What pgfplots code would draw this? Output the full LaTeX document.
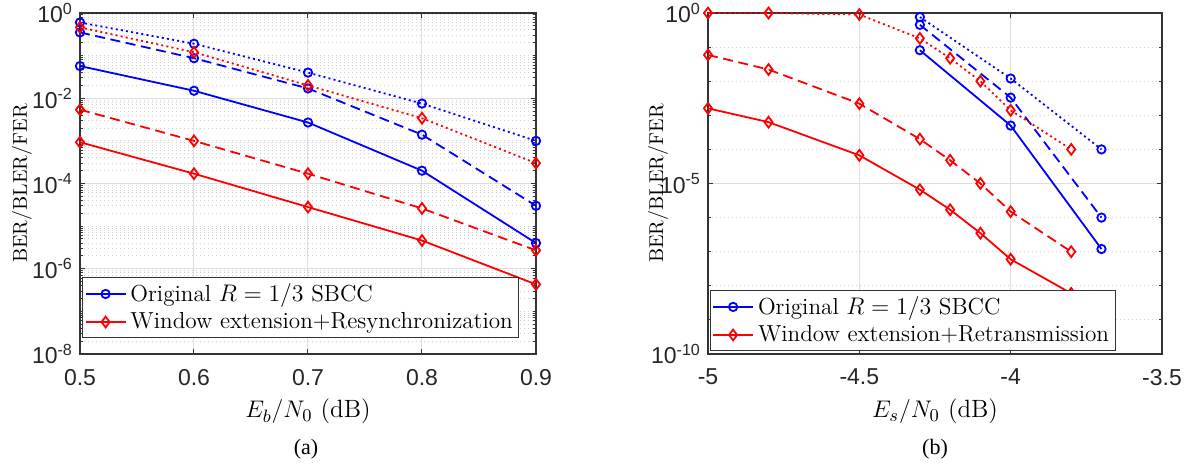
\documentclass[border=0pt]{standalone}
\usepackage{fontspec}
\usepackage{pgfplots}
\pgfplotsset{compat=1.18}
\newfontfamily\tickfont{Liberation Sans}
\newfontfamily\capfont{Liberation Serif}
\pgfplotsset{
 mystyle/.style={
   scale only axis, height=170.5pt,
   clip mode=individual,
   axis line style={black!80, line width=0.55pt},
   tick style={black!80, line width=0.5pt},
   major tick length=2.5pt, minor tick length=1.5pt,
   tick align=inside, tick pos=both,
   ticklabel style={font=\tickfont\fontsize{11.5}{11.5}\selectfont, text=black!85},
   xticklabel style={yshift=-4pt},
   label style={font=\fontsize{12.5}{12.5}\selectfont},
   xmajorgrids, ymajorgrids, yminorgrids,
   major grid style={black!13, line width=0.5pt},
   minor grid style={black!18, line width=0.5pt, dash pattern=on 0.6pt off 1.4pt},
   legend style={font=\fontsize{11.6}{13.5}\selectfont, draw=black!80, line width=0.4pt, inner sep=1pt, anchor=south west},
   legend cell align=left,
   legend image code/.code={\draw[mark repeat=2,mark phase=2] plot coordinates {(0pt,0pt)(10pt,0pt)(20pt,0pt)};},
   ylabel={BER/BLER/FER},
   every axis y label/.style={at={(rel axis cs:0,0.5)}, rotate=90, anchor=center},
 },
}
\tikzset{
 bc/.style={blue, line width=0.9pt, mark=o, mark size=2.1pt, mark options={solid}},
 rd/.style={red, line width=0.9pt, mark=diamond, mark size=2.7pt, mark options={solid}},
 mydsh/.style={dash pattern=on 5pt off 2.8pt},
 mydot/.style={dash pattern=on 1pt off 1.6pt},
}
\begin{document}
\begin{tikzpicture}
\useasboundingbox (-40pt,-55.5pt) rectangle (554pt,177pt);
\begin{axis}[ymode=log, mystyle, width=228pt, at={(0,0)}, anchor=south west,
  xmin=0.5, xmax=0.9, ymin=1e-8, ymax=1,
  xtick={0.5,0.6,0.7,0.8,0.9}, xticklabels={0.5,0.6,0.7,0.8,0.9},
  ytick={1e-8,1e-6,1e-4,1e-2,1},
  yticklabels={10\textsuperscript{-8},10\textsuperscript{-6},10\textsuperscript{-4},10\textsuperscript{-2},10\textsuperscript{0}},
  minor ytick={2e-8,3e-8,4e-8,5e-8,6e-8,7e-8,8e-8,9e-8,1e-7,2e-7,3e-7,4e-7,5e-7,6e-7,7e-7,8e-7,9e-7,
    2e-6,3e-6,4e-6,5e-6,6e-6,7e-6,8e-6,9e-6,1e-5,2e-5,3e-5,4e-5,5e-5,6e-5,7e-5,8e-5,9e-5,
    2e-4,3e-4,4e-4,5e-4,6e-4,7e-4,8e-4,9e-4,1e-3,2e-3,3e-3,4e-3,5e-3,6e-3,7e-3,8e-3,9e-3,
    2e-2,3e-2,4e-2,5e-2,6e-2,7e-2,8e-2,9e-2,1e-1,2e-1,3e-1,4e-1,5e-1,6e-1,7e-1,8e-1,9e-1},
  xlabel={$E_b/N_0$ (dB)},
  ylabel style={yshift=29pt},
  legend style={at={(0.005,0.047)}},
]
\addplot[bc] coordinates {(0.5,0.057)(0.6,0.015)(0.7,2.7e-3)(0.8,2e-4)(0.9,4e-6)};
\addlegendentry{Original $R=1/3$ SBCC}
\addplot[rd] coordinates {(0.5,9.3e-4)(0.6,1.7e-4)(0.7,2.8e-5)(0.8,4.6e-6)(0.9,4.3e-7)};
\addlegendentry{Window extension+Resynchronization}
\addplot[bc,mydsh,forget plot] coordinates {(0.5,0.35)(0.6,0.087)(0.7,0.017)(0.8,1.4e-3)(0.9,3e-5)};
\addplot[bc,mydot,forget plot] coordinates {(0.5,0.6)(0.6,0.19)(0.7,0.04)(0.8,7.5e-3)(0.9,1e-3)};
\addplot[rd,mydsh,forget plot] coordinates {(0.5,5.4e-3)(0.6,1e-3)(0.7,1.7e-4)(0.8,2.6e-5)(0.9,2.7e-6)};
\addplot[rd,mydot,forget plot] coordinates {(0.5,0.46)(0.6,0.12)(0.7,0.02)(0.8,3.4e-3)(0.9,3e-4)};
\end{axis}
\begin{axis}[ymode=log, mystyle, width=227pt, at={(314pt,0)}, anchor=south west,
  xmin=-5, xmax=-3.5, ymin=1e-10, ymax=1,
  xtick={-5,-4.5,-4,-3.5}, xticklabels={-5,-4.5,-4,-3.5},
  ytick={1e-10,1e-5,1},
  yticklabels={10\textsuperscript{-10},10\textsuperscript{-5},10\textsuperscript{0}},
  minor ytick={1e-9,1e-8,1e-7,1e-6,1e-4,1e-3,1e-2,1e-1},
  xlabel={$E_s/N_0$ (dB)},
  ylabel style={yshift=25pt},
  legend style={at={(0.004,0.009)}},
]
\addplot[bc] coordinates {(-4.3,0.081)(-4,5e-4)(-3.7,1.2e-7)};
\addlegendentry{Original $R=1/3$ SBCC}
\addplot[rd] coordinates {(-5,1.6e-3)(-4.8,6.3e-4)(-4.5,6.7e-5)(-4.3,6.6e-6)(-4.2,1.7e-6)(-4.1,3.5e-7)(-4,6e-8)(-3.8,6e-9)};
\addlegendentry{Window extension+Retransmission}
\addplot[bc,mydsh,forget plot] coordinates {(-4.3,0.45)(-4,3.3e-3)(-3.7,1e-6)};
\addplot[bc,mydot,forget plot] coordinates {(-4.3,0.76)(-4,0.012)(-3.7,1e-4)};
\addplot[rd,mydsh,forget plot] coordinates {(-5,0.059)(-4.8,0.022)(-4.5,2.2e-3)(-4.3,2e-4)(-4.2,4.8e-5)(-4.1,1e-5)(-4,1.5e-6)(-3.8,1e-7)};
\addplot[rd,mydot,forget plot] coordinates {(-5,1)(-4.8,1)(-4.5,0.9)(-4.3,0.18)(-4.2,0.047)(-4.1,0.01)(-4,1.4e-3)(-3.8,1e-4)};
\end{axis}
\node[font=\capfont\fontsize{11}{11}\selectfont] at (113pt,-47.5pt) {(a)};
\node[font=\capfont\fontsize{11}{11}\selectfont] at (427.5pt,-47.5pt) {(b)};
\end{tikzpicture}
\end{document}
